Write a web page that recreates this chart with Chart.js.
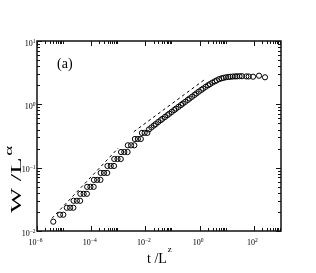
<!DOCTYPE html>
<html>
<head>
<meta charset="utf-8">
<script src="https://cdn.jsdelivr.net/npm/chart.js@4.4.0/dist/chart.umd.min.js"></script>
<style>
  html, body { margin: 0; padding: 0; background: #fff; }
  canvas { display: block; }
</style>
</head>
<body>
<canvas id="wChart" width="316" height="273"></canvas>
<script>
// W/L^alpha against t/L^z, log-log data collapse, panel (a)

// values as log10, one pair of arrays per system size
const logT1 = [-5.40, -5.15, -4.90, -4.65, -4.40, -4.15, -3.90, -3.65, -3.40, -3.15, -2.90, -2.65, -2.39, -2.13,
  -1.87, -1.62, -1.37, -1.12, -0.87, -0.62, -0.37, -0.12, 0.13, 0.38, 0.63, 0.88, 1.13, 1.38];
const logW1 = [-1.853, -1.743, -1.633, -1.523, -1.413, -1.303, -1.193, -1.083, -0.973, -0.863, -0.753, -0.647, -0.547, -0.451,
  -0.396, -0.311, -0.228, -0.148, -0.068, 0.012, 0.092, 0.172, 0.249, 0.319, 0.379, 0.418, 0.435, 0.442];

const logT2 = [-5.03, -4.78, -4.53, -4.28, -4.03, -3.78, -3.53, -3.28, -3.03, -2.78, -2.53, -2.28, -2.03,
  -1.78, -1.53, -1.28, -1.03, -0.78, -0.53, -0.28, -0.03, 0.22, 0.47, 0.72, 0.97, 1.22, 1.47, 1.72, 1.97];
const logW2 = [-1.743, -1.633, -1.523, -1.413, -1.303, -1.193, -1.083, -0.973, -0.863, -0.753, -0.647, -0.547, -0.451,
  -0.365, -0.280, -0.200, -0.120, -0.040, 0.040, 0.120, 0.201, 0.276, 0.343, 0.398, 0.427, 0.439, 0.444, 0.441, 0.436];

const logT3 = [-4.66, -4.41, -4.16, -3.91, -3.66, -3.41, -3.16, -2.91, -2.66, -2.41, -2.17, -1.93,
  -1.69, -1.44, -1.19, -0.94, -0.69, -0.44, -0.19, 0.06, 0.31, 0.56, 0.81, 1.06, 1.31, 1.56, 1.81, 2.19, 2.41];
const logW3 = [-1.633, -1.523, -1.413, -1.303, -1.193, -1.083, -0.973, -0.863, -0.753, -0.647, -0.547, -0.451,
  -0.335, -0.251, -0.171, -0.091, -0.011, 0.069, 0.149, 0.228, 0.301, 0.363, 0.411, 0.432, 0.441, 0.444, 0.440, 0.452, 0.427];

// dashed guide lines, end points as log10
const guide1T = [-5.45, -3.00];
const guide1W = [-1.80, -0.69];
const guide2T = [-2.43, 0.16];
const guide2W = [-0.433, 0.384];

// tick exponents
const xMajorExp = [-6, -4, -2, 0, 2];
const yMajorExp = [-2, -1, 0, 1];
const minorSteps = [2, 3, 4, 5, 6, 7, 8, 9];

const toPoints = (lt, lw) => lt.map((u, i) => ({ x: Math.pow(10, u), y: Math.pow(10, lw[i]) }));

const circleSet = (lt, lw) => ({
  data: toPoints(lt, lw),
  showLine: false,
  pointStyle: "circle",
  pointRadius: 2.6,
  pointBorderWidth: 1,
  pointBorderColor: "#000",
  pointBackgroundColor: "rgba(0,0,0,0)"
});

const guideSet = (lt, lw) => ({
  data: toPoints(lt, lw),
  showLine: true,
  borderColor: "#000",
  borderWidth: 1,
  borderDash: [3, 3],
  pointRadius: 0
});

const SERIF = "'Liberation Serif', 'DejaVu Serif', serif";

// "10" with a raised exponent, anchored by its centre (align 'center') or right end
function drawPower(ctx, base, exp, x, y, align, size, expSize, rise) {
  ctx.font = size + "px " + SERIF;
  const wb = ctx.measureText(base).width;
  ctx.font = expSize + "px " + SERIF;
  const we = ctx.measureText(exp).width;
  const total = wb + we;
  let left = align === "right" ? x - total : x - total / 2;
  ctx.textAlign = "left";
  ctx.font = size + "px " + SERIF;
  ctx.fillText(base, left, y);
  ctx.font = expSize + "px " + SERIF;
  ctx.fillText(exp, left + wb, y - rise);
}

const framePlugin = {
  id: "frame",
  afterDraw(chart) {
    const ctx = chart.ctx;
    const a = chart.chartArea;
    const xs = chart.scales.x, ys = chart.scales.y;
    ctx.save();
    ctx.strokeStyle = "#111";
    ctx.fillStyle = "#000";
    ctx.lineWidth = 1.5;
    ctx.strokeRect(a.left, a.top, a.right - a.left, a.bottom - a.top);

    ctx.lineWidth = 1;
    ctx.beginPath();
    const xTick = (v, len) => {
      const px = Math.round(xs.getPixelForValue(v)) + 0.5;
      ctx.moveTo(px, a.bottom); ctx.lineTo(px, a.bottom - len);
      ctx.moveTo(px, a.top); ctx.lineTo(px, a.top + len);
    };
    const yTick = (v, len) => {
      const py = Math.round(ys.getPixelForValue(v)) + 0.5;
      ctx.moveTo(a.left, py); ctx.lineTo(a.left + len, py);
      ctx.moveTo(a.right, py); ctx.lineTo(a.right - len, py);
    };
    xMajorExp.forEach(e => {
      xTick(Math.pow(10, e), 5);
      minorSteps.forEach(m => xTick(m * Math.pow(10, e), 3));
    });
    yMajorExp.forEach(e => {
      yTick(Math.pow(10, e), 5);
      if (e < 1) minorSteps.forEach(m => yTick(m * Math.pow(10, e), 3));
    });
    ctx.stroke();

    ctx.textBaseline = "alphabetic";
    xMajorExp.forEach(e => {
      const px = xs.getPixelForValue(Math.pow(10, e));
      drawPower(ctx, "10", String(e).replace("-", "\u2212"), px - 1.5, a.bottom + 14, "center", 8, 5.5, 3);
    });
    yMajorExp.forEach(e => {
      const py = ys.getPixelForValue(Math.pow(10, e));
      drawPower(ctx, "10", String(e).replace("-", "\u2212"), a.left - 1.5, py + 4.5, "right", 8, 5.5, 3);
    });

    // panel label
    ctx.font = "14px " + SERIF;
    ctx.textAlign = "left";
    ctx.fillText("(a)", 57, 67.5);

    // x title
    ctx.font = "14px " + SERIF;
    ctx.fillText("t /L", 147, 263);
    const wt = ctx.measureText("t /L").width;
    ctx.font = "9px " + SERIF;
    ctx.fillText("z", 147 + wt + 1, 252);

    // y title, rotated
    ctx.translate(21, 213);
    ctx.rotate(-Math.PI / 2);
    ctx.scale(1.9, 1);
    ctx.font = "14px " + SERIF;
    ctx.fillText("W /L", 0, 0);
    const wy = ctx.measureText("W /L").width;
    ctx.font = "10px " + SERIF;
    ctx.fillText("\u03b1", wy + 1, -9);
    ctx.restore();
  }
};

document.addEventListener("DOMContentLoaded", () => {
  const ctx = document.getElementById("wChart").getContext("2d");

  new Chart(ctx, {
    type: "scatter",
    data: {
      datasets: [
        circleSet(logT1, logW1),
        circleSet(logT2, logW2),
        circleSet(logT3, logW3),
        guideSet(guide1T, guide1W),
        guideSet(guide2T, guide2W)
      ]
    },
    options: {
      responsive: false,
      animation: false,
      layout: { padding: { left: 37, right: 35, top: 41, bottom: 42 } },
      plugins: {
        legend: { display: false },
        tooltip: { enabled: false }
      },
      scales: {
        x: { type: "logarithmic", min: 1e-6, max: 1e3, display: false },
        y: { type: "logarithmic", min: 1e-2, max: 1e1, display: false }
      }
    },
    plugins: [framePlugin]
  });
});
</script>
</body>
</html>
